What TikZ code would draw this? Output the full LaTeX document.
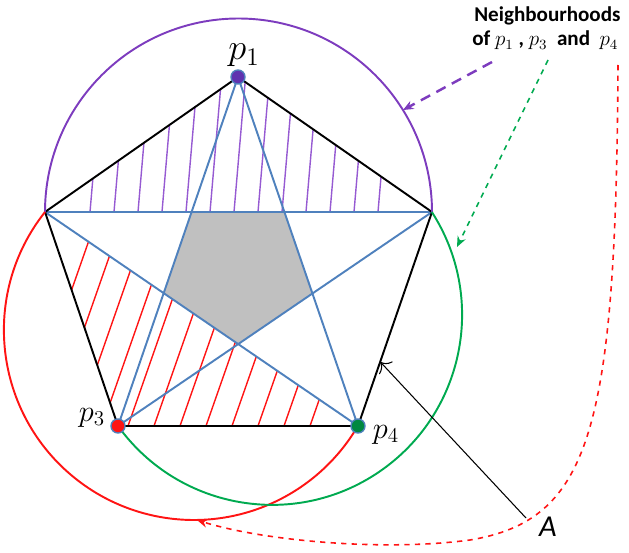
\documentclass[tikz,border=0pt]{standalone}
\usepackage{fontspec}
\setmainfont{Carlito}
\usetikzlibrary{arrows.meta,calc}
\definecolor{starblue}{RGB}{79,129,189}
\definecolor{hoodpurple}{RGB}{125,60,190}
\definecolor{hatchpurple}{RGB}{150,90,210}
\definecolor{dotpurple}{RGB}{95,50,175}
\definecolor{hoodgreen}{RGB}{0,170,80}
\definecolor{hoodred}{RGB}{255,20,20}
\definecolor{innergray}{RGB}{192,192,192}

\begin{document}
\begin{tikzpicture}[x=0.02cm,y=0.02cm,
  pentaside/.style={black,line width=1.1pt},
  starline/.style={starblue,line width=1.1pt},
  hood/.style={line width=1.1pt},
  hatch/.style={line width=0.8pt},
  hoodarrow/.style={dashed,line width=0.9pt,-{Stealth[length=6pt,width=5pt]}},
  pdot/.style={circle,draw=starblue,line width=0.8pt,inner sep=0pt,minimum size=8pt}]
\useasboundingbox (0,0) rectangle (629,552);

% Pentagon corners
\coordinate (p1) at (238,475);
\coordinate (L) at (45,340);
\coordinate (R) at (432,340);
\coordinate (p3) at (118,126);
\coordinate (p4) at (358,126);

% Purple hatching (top triangle)
\begin{scope}
\clip (p1) -- (L) -- (R) -- cycle;
\foreach \x in {90,114,...,380}
  \draw[hatch,hatchpurple] (\x,340) -- ++(12,140);
\end{scope}

% Red hatching (lower left triangle)
\begin{scope}
\clip (L) -- (p3) -- (p4) -- cycle;
\foreach \x in {24,50,...,320}
  \draw[hatch,hoodred] (\x,126) -- ++(105,300);
\end{scope}

% Inner pentagon
\coordinate (i1) at (intersection of p1--p3 and L--R);
\coordinate (i2) at (intersection of p1--p4 and L--R);
\coordinate (i3) at (intersection of p1--p4 and R--p3);
\coordinate (i4) at (intersection of L--p4 and R--p3);
\coordinate (i5) at (intersection of p1--p3 and L--p4);
\fill[innergray] (i1) -- (i2) -- (i3) -- (i4) -- (i5) -- cycle;

% Star
\draw[starline] (p1) -- (p3) (p1) -- (p4) (L) -- (R) (L) -- (p4) (R) -- (p3);

% Pentagon sides
\draw[pentaside] (p1) -- (L) -- (p3) -- (p4) -- (R) -- cycle;

% Neighbourhoods
\draw[hood,hoodpurple] (R) arc[start angle=0,end angle=180,radius=193.5];
\draw[hood,hoodred] (L) arc[start angle=141.6,end angle=329.7,radius=190];
\draw[hood,hoodgreen] (p3) arc[start angle=-144.2,end angle=32.8,radius=190];

% Points
\node[pdot,fill=dotpurple] (d1) at (p1) {};
\node[pdot,fill=hoodred] (d3) at (p3) {};
\node[pdot,fill=hoodgreen!80!black] (d4) at (p4) {};
\node[anchor=base,font=\huge] (lab1) at (244,492) {$p_1$};
\node[anchor=base,font=\LARGE] (lab3) at (92,131) {$p_3$};
\node[anchor=base,font=\LARGE] (lab4) at (386,114) {$p_4$};

% Legend
\node[anchor=base west,font=\large\bfseries,inner sep=0pt] (title) at (474,530) {Neighbourhoods};
\node[anchor=base west,font=\large\bfseries,inner sep=0pt] (which) at (472,506) {of {\large$p_1$} , {\large$p_3$} \ and \ {\large$p_4$}};

% Legend arrows
\coordinate (fromp1) at (492,490);
\coordinate (fromp3) at (548,492);
\coordinate (fromp4) at (618,487);
\coordinate (topurple) at (403,442);
\coordinate (togreen) at (457,305);
\coordinate (tored) at (197,32);
\draw[hoodarrow,hoodpurple,line width=1.4pt,dash pattern=on 6pt off 4pt] (fromp1) -- (topurple);
\draw[hoodarrow,hoodgreen] (fromp3) -- (togreen);
\draw[hoodarrow,hoodred] (fromp4) .. controls (616,120) and (590,32) .. (470,12)
  .. controls (380,0) and (260,12) .. (tored);

% Side A
\node[font=\LARGE\itshape] (A) at (548,25) {A};
\coordinate (Astart) at (526,34);
\coordinate (Aend) at ($(R)!0.70!(p4)$);
\draw[-{To[length=5pt]},line width=0.6pt] (Astart) -- (Aend);
\end{tikzpicture}
\end{document}
